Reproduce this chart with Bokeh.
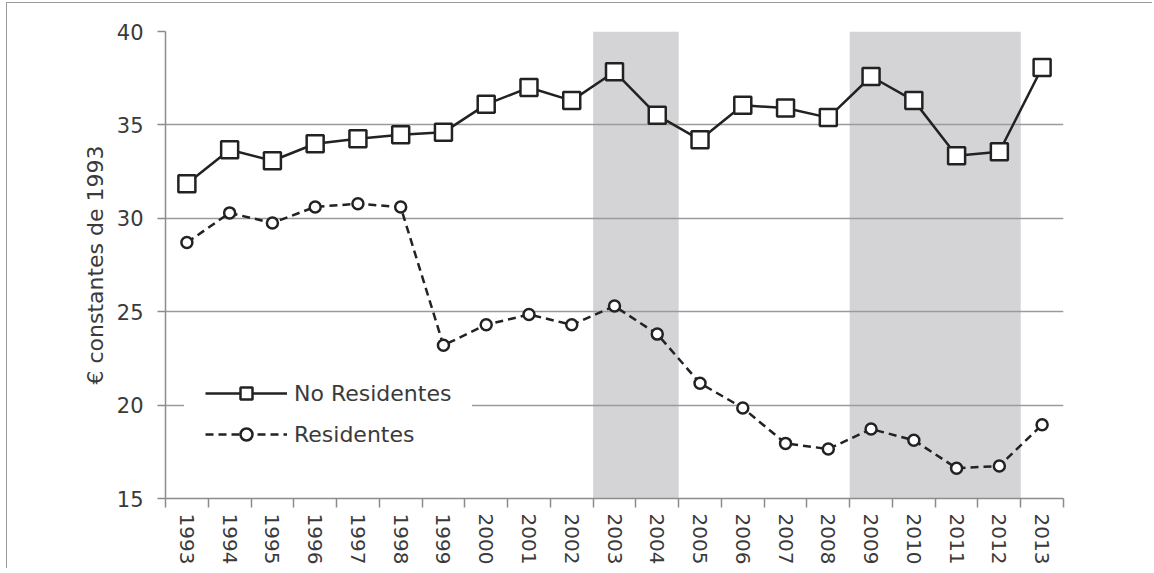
import math
from bokeh.plotting import figure
from bokeh.models import Range1d, FixedTicker, Legend, LegendItem, BoxAnnotation
from bokeh.embed import file_html
from bokeh.resources import INLINE

# ---- data ----
years = ["1993", "1994", "1995", "1996", "1997", "1998", "1999", "2000", "2001", "2002",
         "2003", "2004", "2005", "2006", "2007", "2008", "2009", "2010", "2011", "2012", "2013"]
no_residentes = [31.85, 33.67, 33.08, 33.99, 34.26, 34.47, 34.6, 36.1, 37.0, 36.3,
                 37.85, 35.51, 34.2, 36.05, 35.9, 35.39, 37.59, 36.3, 33.35, 33.56, 38.07]
residentes = [28.7, 30.29, 29.75, 30.61, 30.78, 30.6, 23.2, 24.3, 24.85, 24.3,
              25.3, 23.8, 21.17, 19.85, 17.95, 17.65, 18.72, 18.12, 16.62, 16.74, 18.95]
shaded_periods = [("2003", "2004"), ("2009", "2012")]
y_ticks = [15, 20, 25, 30, 35, 40]
y_label = "€ constantes de 1993"

FONT = "DejaVu Sans"
TXT = "#3a3a3a"
AX = "#8c8c8c"
INK = "#222222"

x = list(range(len(years)))

p = figure(width=1146, height=566, output_backend="svg", toolbar_location=None,
           x_range=Range1d(-0.5, len(years) - 0.5), y_range=Range1d(y_ticks[0], y_ticks[-1]),
           min_border_left=158, min_border_right=90, min_border_top=28, min_border_bottom=71)
p.outline_line_color = None
p.background_fill_color = "white"
p.border_fill_color = "white"

# shaded periods
for a, b in shaded_periods:
    p.add_layout(BoxAnnotation(left=years.index(a) - 0.5, right=years.index(b) + 0.5,
                               fill_color="#d4d4d7", fill_alpha=1, line_color=None, level="image"))

# grid
p.xgrid.visible = False
p.ygrid.ticker = FixedTicker(ticks=y_ticks[1:])
p.ygrid.grid_line_color = "#9a9a9a"
p.ygrid.grid_line_width = 1.5

# axes
xa = p.xaxis[0]
xa.ticker = FixedTicker(ticks=x, minor_ticks=[i - 0.5 for i in range(len(years) + 1)])
xa.major_label_overrides = {i: yr for i, yr in zip(x, years)}
xa.major_label_orientation = "vertical"
xa.major_tick_out = 0
xa.major_tick_in = 0
xa.minor_tick_out = 9
xa.minor_tick_in = 0
xa.minor_tick_line_color = AX
xa.minor_tick_line_width = 1.5
xa.axis_line_color = AX
xa.axis_line_width = 1.5
xa.major_label_standoff = 6
xa.major_label_text_font = FONT
xa.major_label_text_font_size = "20px"
xa.major_label_text_color = TXT

ya = p.yaxis[0]
ya.ticker = FixedTicker(ticks=y_ticks, minor_ticks=[])
ya.major_tick_out = 8
ya.major_tick_in = 0
ya.major_tick_line_color = AX
ya.major_tick_line_width = 1.5
ya.axis_line_color = AX
ya.axis_line_width = 1.5
ya.major_label_standoff = 14
ya.major_label_text_font = FONT
ya.major_label_text_font_size = "21px"
ya.major_label_text_color = TXT
ya.axis_label = y_label
ya.axis_label_text_font = FONT
ya.axis_label_text_font_size = "22px"
ya.axis_label_text_font_style = "normal"
ya.axis_label_text_color = TXT
ya.axis_label_standoff = 6

# series
l1 = p.line(x, no_residentes, line_color=INK, line_width=2.5)
s1 = p.scatter(x, no_residentes, marker="square", size=17, fill_color="white",
               line_color=INK, line_width=2.5)
l2 = p.line(x, residentes, line_color=INK, line_width=2.5, line_dash="8 5")
s2 = p.scatter(x, residentes, marker="circle", size=11, fill_color="white",
               line_color=INK, line_width=2.5)

legend = Legend(items=[LegendItem(label="No Residentes", renderers=[l1, s1]),
                       LegendItem(label="Residentes", renderers=[l2, s2])],
                location=(19, 28), margin=0, padding=20, spacing=11,
                glyph_width=82, glyph_height=30, label_standoff=7,
                label_text_font=FONT, label_text_font_size="22px", label_text_color=TXT,
                background_fill_color="white", background_fill_alpha=1,
                border_line_color="white", border_line_width=1)
p.add_layout(legend)

p.styles = {"margin-left": "6px", "margin-top": "2px",
            "border-left": "1.5px solid #9a9a9a", "border-top": "1.5px solid #9a9a9a"}

open("out.html", "w").write(file_html(p, INLINE))
